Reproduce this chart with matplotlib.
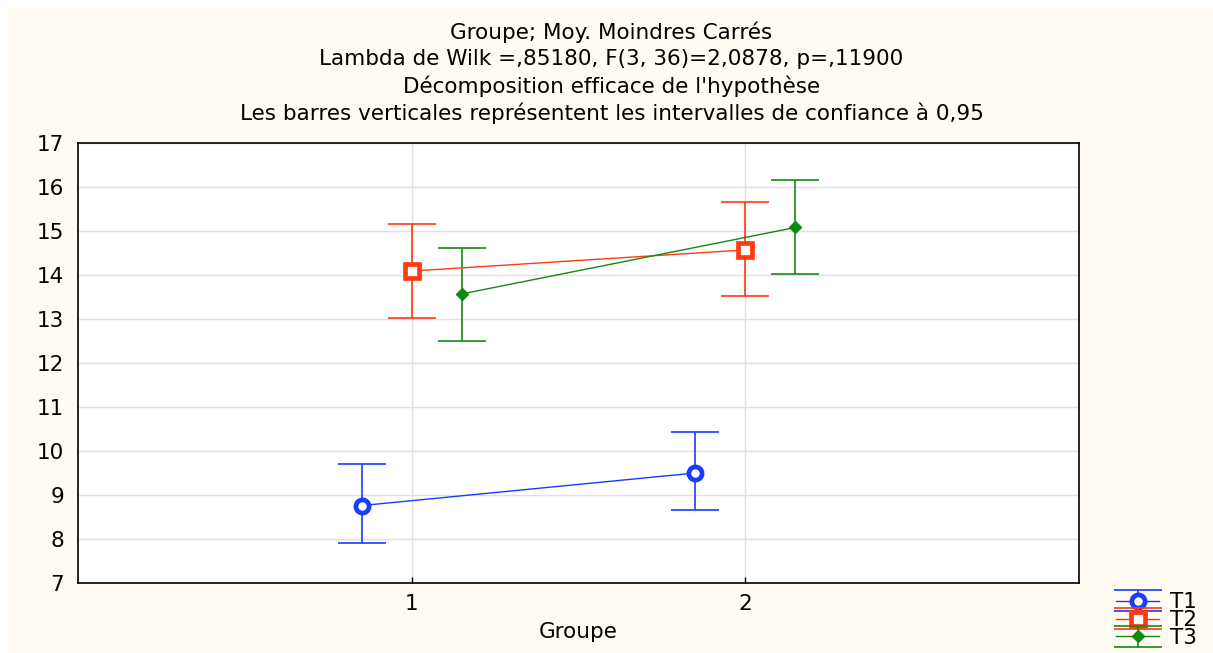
import matplotlib
matplotlib.use("Agg")
from matplotlib import pyplot as plt
from matplotlib.patches import Rectangle

plt.rcParams['font.family'] = ['DejaVu Sans']

groups = [1, 2]
group_labels = ["1", "2"]
series = ["T1", "T2", "T3"]
offsets = [-0.15, 0.0, 0.15]

means = {
    "T1": [8.76, 9.50],
    "T2": [14.09, 14.57],
    "T3": [13.57, 15.08],
}
lower = {
    "T1": [7.90, 8.66],
    "T2": [13.03, 13.53],
    "T3": [12.49, 14.03],
}
upper = {
    "T1": [9.70, 10.44],
    "T2": [15.15, 15.66],
    "T3": [14.62, 16.15],
}

colors = {"T1": "#1a3cff", "T2": "#ff3a12", "T3": "#128a12"}
markers = {"T1": "o", "T2": "s", "T3": "D"}

title_lines = [
    "Groupe; Moy. Moindres Carrés",
    "Lambda de Wilk =,85180, F(3, 36)=2,0878, p=,11900",
    "Décomposition efficace de l'hypothèse",
    "Les barres verticales représentent les intervalles de confiance à 0,95",
]

FS = 15.5

W, H = 1213, 653
fig = plt.figure(figsize=(W / 100, H / 100), dpi=100, facecolor="white")
# cream panel behind everything
fig.patches.append(Rectangle((8 / W, 0), 1, 1 - 8 / H, transform=fig.transFigure,
                             facecolor="#fffbf2", edgecolor="none", zorder=-10))

ax = fig.add_axes([78 / W, 70 / H, 1001 / W, 440 / H])
ax.set_facecolor("white")

handles = []
for s, off in zip(series, offsets):
    xs = [g + off for g in groups]
    m = means[s]
    err = [[a - b for a, b in zip(m, lower[s])], [b - a for a, b in zip(m, upper[s])]]
    c = colors[s]
    if s == "T3":
        h = ax.errorbar(xs, m, yerr=err, color=c, lw=1, elinewidth=1.2, capsize=17,
                        marker="D", ms=6, mfc=c, mec=c, zorder=3)
    else:
        h = ax.errorbar(xs, m, yerr=err, color=c, lw=1, elinewidth=1.2, capsize=17,
                        marker=markers[s], ms=9.5, mfc="white", mec=c,
                        mew=3.4, zorder=3)
    for cap in h[1]:
        cap.set_markeredgewidth(1.2)
    handles.append(h)

ax.set_xlim(0, 3)
ax.set_ylim(7, 17)
ax.set_xticks(groups)
ax.set_xticklabels(group_labels)
ax.set_yticks(range(7, 18))
ax.grid(True, color="#e0e0e0", lw=1)
ax.set_axisbelow(True)
ax.tick_params(labelsize=FS, length=4, direction="in", width=1)
ax.tick_params(axis="y", length=0, pad=10)
ax.tick_params(axis="x", pad=8)
for sp in ax.spines.values():
    sp.set_linewidth(1.2)
    sp.set_color("black")

ax.set_xlabel("Groupe", fontsize=FS, labelpad=6)

for i, line in enumerate(title_lines):
    fig.text(0.5 + 5 / W, 1 - (32 + 27 * i) / H, line, ha="center", va="center", fontsize=FS)

fig.legend(handles, series, loc="lower right", bbox_to_anchor=(1212 / W, -10 / H),
           frameon=False, fontsize=FS, handlelength=2.0, handletextpad=0.5,
           labelspacing=-0.1, borderpad=0.2)

fig.savefig("out.png", dpi=100, facecolor=fig.get_facecolor())
